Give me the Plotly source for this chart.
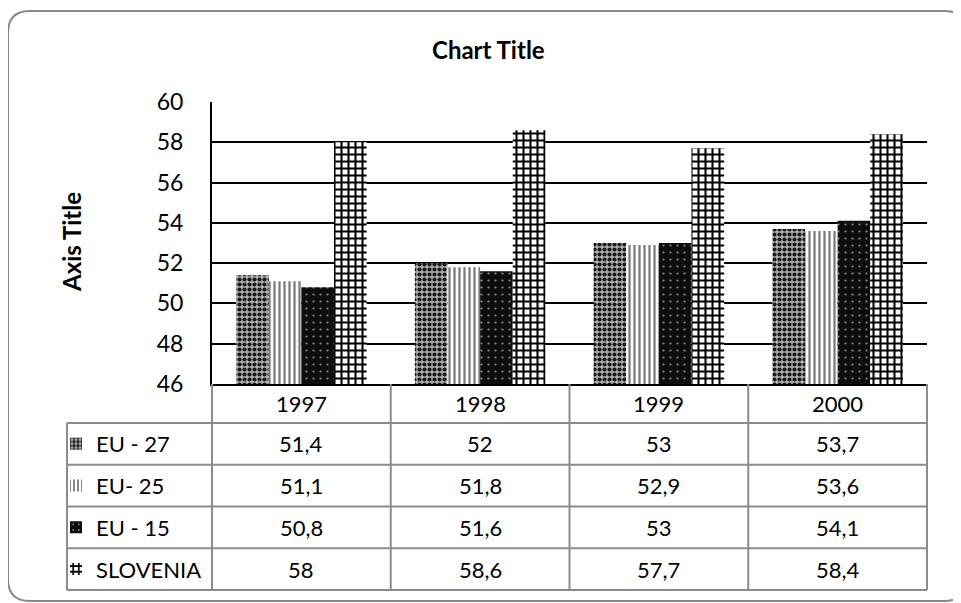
import plotly.graph_objects as go

# ---------------- data ----------------
years = ["1997", "1998", "1999", "2000"]
series_names = ["EU - 27", "EU- 25", "EU - 15", "SLOVENIA"]
eu27 = [51.4, 52, 53, 53.7]
eu25 = [51.1, 51.8, 52.9, 53.6]
eu15 = [50.8, 51.6, 53, 54.1]
slovenia = [58, 58.6, 57.7, 58.4]
y_ticks = [46, 48, 50, 52, 54, 56, 58, 60]

series_values = [eu27, eu25, eu15, slovenia]

# ---------------- styles ----------------
styles = [
    dict(bg="#b0b0b0", fg="#1a1a1a", shape=".", size=5, solidity=0.55),
    dict(bg="#ffffff", fg="#7a7a7a", shape="|", size=5, solidity=0.45),
    dict(bg="#0d0d0d", fg="#8a8a8a", shape=".", size=7, solidity=0.08),
    dict(bg="#ffffff", fg="#000000", shape="+", size=7, solidity=0.5),
]
FONT = "Lato, 'Open Sans', sans-serif"

# ---------------- layout geometry (reference pixels) ----------------
OFF = 8                      # page body margin
W, H = 961 - OFF, 603 - OFF
L, R, T, B = 212, 927, 102, 384
TABLE_LEFT = 67
HEADER_BOTTOM = 423
ROW_H = 41.75


def px_x(px):
    return (px - L) / (R - L)


def px_y(py):
    return (B - py) / (B - T)


def fmt(v):
    return ("%g" % v).replace(".", ",")


fig = go.Figure()
legend_ids = ["legend", "legend2", "legend3", "legend4"]
for i, (name, vals, st) in enumerate(zip(series_names, series_values, styles)):
    fig.add_trace(go.Bar(
        x=years, y=vals, name=name,
        marker=dict(
            color=st["bg"],
            line=dict(width=0),
            pattern=dict(shape=st["shape"], fgcolor=st["fg"], bgcolor=st["bg"],
                         size=st["size"], solidity=st["solidity"], fillmode="replace"),
        ),
        legend=legend_ids[i],
        showlegend=True,
        hoverinfo="x+y+name",
    ))

shapes = []
annotations = []

# table grid lines
grid_col = "#8c8c8c"
row_lines = [HEADER_BOTTOM + k * ROW_H for k in range(len(series_names) + 1)]
for yl in row_lines:
    shapes.append(dict(type="line", xref="paper", yref="paper",
                       x0=px_x(TABLE_LEFT), x1=1, y0=px_y(yl), y1=px_y(yl),
                       line=dict(color=grid_col, width=2)))
ncat = len(years)
for k in range(ncat + 1):
    shapes.append(dict(type="line", xref="paper", yref="paper",
                       x0=k / ncat, x1=k / ncat, y0=0, y1=px_y(row_lines[-1]),
                       line=dict(color=grid_col, width=2)))
shapes.append(dict(type="line", xref="paper", yref="paper",
                   x0=px_x(TABLE_LEFT), x1=px_x(TABLE_LEFT),
                   y0=px_y(HEADER_BOTTOM), y1=px_y(row_lines[-1]),
                   line=dict(color=grid_col, width=2)))

# header (years)
for k, yr in enumerate(years):
    annotations.append(dict(x=(k + 0.5) / ncat, y=px_y((B + HEADER_BOTTOM) / 2),
                            xref="paper", yref="paper", text=yr, showarrow=False,
                            font=dict(family=FONT, size=22, color="#000"),
                            xanchor="center", yanchor="middle"))
# values
for r, vals in enumerate(series_values):
    yc = px_y(HEADER_BOTTOM + (r + 0.5) * ROW_H)
    for k, v in enumerate(vals):
        annotations.append(dict(x=(k + 0.5) / ncat, y=yc, xref="paper", yref="paper",
                                text=fmt(v), showarrow=False,
                                font=dict(family=FONT, size=22, color="#000"),
                                xanchor="center", yanchor="middle"))

# outer rounded border
x0b, y0b, x1b, y1b, rr = 8, 11, 966, 601, 22


def P(px, py):
    return "%.5f,%.5f" % (px_x(px), px_y(py))


path = ("M " + P(x0b + rr, y0b) + " L " + P(x1b - rr, y0b) +
        " Q " + P(x1b, y0b) + " " + P(x1b, y0b + rr) +
        " L " + P(x1b, y1b - rr) + " Q " + P(x1b, y1b) + " " + P(x1b - rr, y1b) +
        " L " + P(x0b + rr, y1b) + " Q " + P(x0b, y1b) + " " + P(x0b, y1b - rr) +
        " L " + P(x0b, y0b + rr) + " Q " + P(x0b, y0b) + " " + P(x0b + rr, y0b) + " Z")
shapes.append(dict(type="path", xref="paper", yref="paper", path=path,
                   line=dict(color="#888888", width=2), fillcolor="rgba(0,0,0,0)"))

# title & axis title
annotations.append(dict(x=px_x(488), y=px_y(49), xref="paper", yref="paper",
                        text="<b>Chart Title</b>", showarrow=False,
                        font=dict(family=FONT, size=24, color="#000"),
                        xanchor="center", yanchor="middle"))
annotations.append(dict(x=px_x(71), y=px_y(242), xref="paper", yref="paper",
                        text="<b>Axis Title</b>", showarrow=False, textangle=-90,
                        font=dict(family=FONT, size=24, color="#000"),
                        xanchor="center", yanchor="middle"))

legend_layouts = {}
for r, lid in enumerate(legend_ids):
    yc = px_y(HEADER_BOTTOM + (r + 0.5) * ROW_H)
    legend_layouts[lid] = dict(x=px_x(56), y=yc, xanchor="left", yanchor="middle",
                               xref="paper", yref="paper",
                               bgcolor="rgba(0,0,0,0)", borderwidth=0,
                               font=dict(family=FONT, size=22, color="#000"),
                               itemwidth=30)

fig.update_layout(
    width=W, height=H,
    margin=dict(l=L - OFF, r=W - (R - OFF), t=T - OFF, b=H - (B - OFF), pad=0),
    paper_bgcolor="white", plot_bgcolor="white",
    barmode="group", bargap=0.27, bargroupgap=0,
    xaxis=dict(type="category", range=[-0.5, 3.5], showticklabels=False,
               showgrid=False, showline=True, linecolor="#000", linewidth=2,
               ticks="", zeroline=False, fixedrange=True),
    yaxis=dict(range=[46, 60], tickvals=y_ticks, ticktext=[str(t) for t in y_ticks],
               showgrid=True, gridcolor="#000", gridwidth=2,
               showline=True, linecolor="#000", linewidth=2, ticks="",
               tickfont=dict(family=FONT, size=23, color="#000"),
               ticklabelstandoff=22, zeroline=False, fixedrange=True),
    shapes=shapes,
    annotations=annotations,
    **legend_layouts,
)

fig.write_html("out.html")
